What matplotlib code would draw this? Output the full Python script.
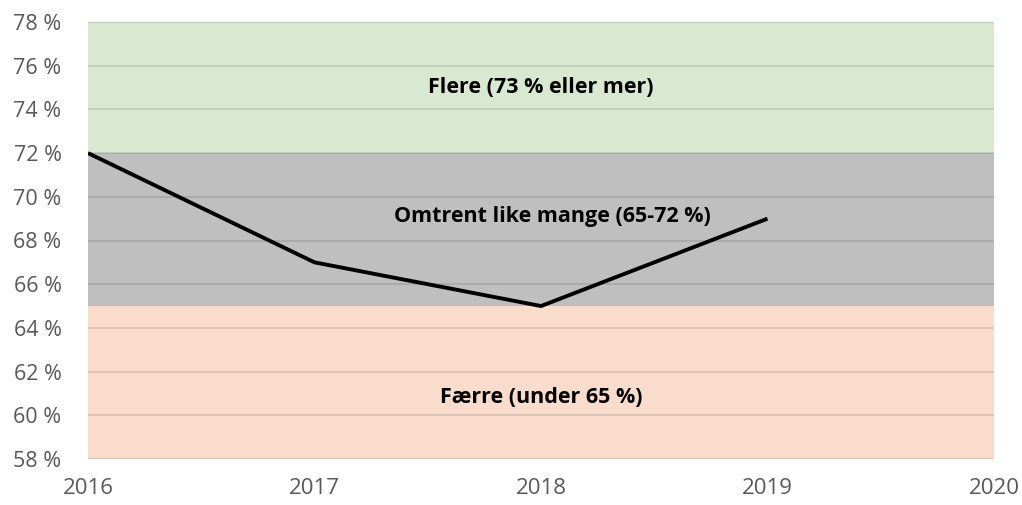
import matplotlib
matplotlib.use("Agg")
import matplotlib.pyplot as plt

years = [2016, 2017, 2018, 2019]
values = [72, 67, 65, 69]

band_bounds = [(58, 65), (65, 72), (72, 78)]
band_colors = ["#F9DCCB", "#BFBFBF", "#D9E8D0"]
band_labels = ["Færre (under 65 %)", "Omtrent like mange (65-72 %)", "Flere (73 % eller mer)"]
label_pos = [(2018, 60.8), (2018.05, 69.1), (2018, 75.0)]

yticks = list(range(58, 79, 2))
xticks = [2016, 2017, 2018, 2019, 2020]

plt.rcParams['font.family'] = ['Open Sans', 'DejaVu Sans']

fig = plt.figure(figsize=(10.22, 5.05), dpi=100)
ax = fig.add_axes([88/1022, 1-459/505, (994-88)/1022, (459-22)/505])

for (lo, hi), c in zip(band_bounds, band_colors):
    ax.axhspan(lo, hi, color=c, zorder=0, lw=0)

for y in yticks:
    ax.axhline(y, color="#000000", alpha=0.12, lw=1.2, zorder=1)

ax.plot(years, values, color="black", lw=2.8, zorder=3, solid_capstyle="butt")

for txt, (x, y) in zip(band_labels, label_pos):
    ax.text(x, y, txt, ha="center", va="center", fontsize=15.5, fontweight="bold", color="black", zorder=4)

ax.set_xlim(2016, 2020)
ax.set_ylim(58, 78)
ax.set_yticks(yticks)
ax.set_yticklabels([f"{y} %" for y in yticks])
ax.set_xticks(xticks)
ax.set_xticklabels([str(x) for x in xticks])
ax.tick_params(axis="y", length=0, labelsize=15.5, labelcolor="#595959", pad=19)
ax.tick_params(axis="x", length=0, labelsize=16, labelcolor="#595959", pad=14)
for s in ax.spines.values():
    s.set_visible(False)

fig.savefig("out.png", dpi=100)
